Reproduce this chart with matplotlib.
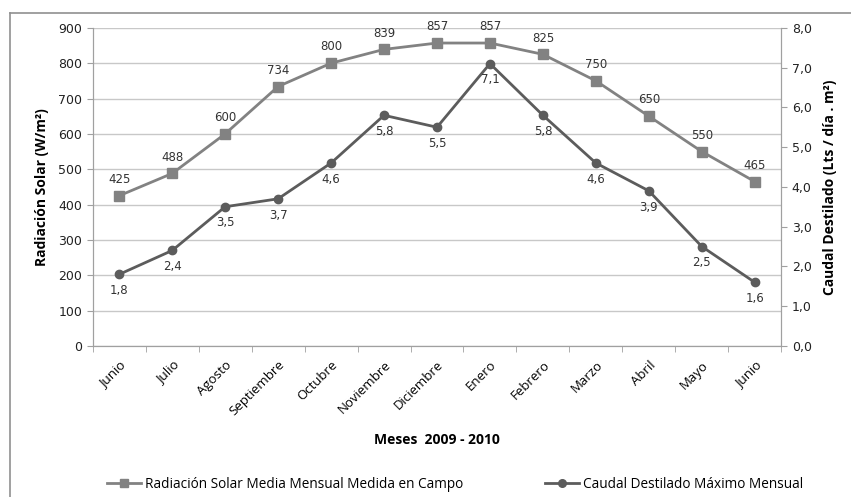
import numpy as np
from matplotlib import pyplot as plt
from matplotlib.lines import Line2D

meses = ["Junio", "Julio", "Agosto", "Septiembre", "Octubre", "Noviembre", "Diciembre",
         "Enero", "Febrero", "Marzo", "Abril", "Mayo", "Junio"]
radiacion = [425, 488, 600, 734, 800, 839, 857, 857, 825, 750, 650, 550, 465]
caudal = [1.8, 2.4, 3.5, 3.7, 4.6, 5.8, 5.5, 7.1, 5.8, 4.6, 3.9, 2.5, 1.6]

colRad = "#828282"
colCau = "#5c5c5c"
axCol = "#a0a0a0"

fig = plt.figure(figsize=(8.51, 4.97), dpi=100)
ax = fig.add_axes([0.109, 0.304, 0.809, 0.640])
ax2 = ax.twinx()

x = np.arange(len(meses))
ax.plot(x, radiacion, color=colRad, lw=2, marker="s", ms=6.5, zorder=3)
ax2.plot(x, caudal, color=colCau, lw=2, marker="o", ms=6, zorder=3)

for xi, v in zip(x, radiacion):
    ax.annotate(str(v), (xi, v), xytext=(0, 7), textcoords="offset points",
                ha="center", va="bottom", fontsize=8.5, color="#333333")
for xi, v in zip(x, caudal):
    ax2.annotate(f"{v:.1f}".replace(".", ","), (xi, v), xytext=(0, -7), textcoords="offset points",
                 ha="center", va="top", fontsize=8.5, color="#333333")

ax.set_xlim(-0.5, len(meses) - 0.5)
ax.set_ylim(0, 900)
ax2.set_ylim(0, 8)
ax.set_yticks(np.arange(0, 901, 100))
ax2.set_yticks(np.arange(0, 8.1, 1))
ax2.set_yticklabels([f"{v:.1f}".replace(".", ",") for v in np.arange(0, 8.1, 1)])
ax.grid(axis="y", color="#c8c8c8", lw=1)
ax.set_axisbelow(True)

ax.set_xticks(x)
ax.set_xticklabels(meses, rotation=45, ha="right", rotation_mode="anchor",
                   fontsize=9.5, family="Open Sans")
ax.set_xticks(np.arange(-0.5, len(meses)), minor=True)
ax.tick_params(axis="x", which="major", length=0, pad=9)
ax.tick_params(axis="x", which="minor", length=4, color=axCol)
ax.tick_params(axis="y", length=4, color=axCol, labelsize=9, labelcolor="#222222")
ax2.tick_params(axis="y", length=4, color=axCol, labelsize=9, labelcolor="#222222")

for a in (ax, ax2):
    a.spines["top"].set_visible(False)
    for s in ("left", "right", "bottom"):
        a.spines[s].set_color(axCol)

ax.set_ylabel("Radiación Solar (W/m²)", fontsize=10, fontweight="bold", family="Open Sans", labelpad=7)
ax2.set_ylabel("Caudal Destilado (Lts / día . m²)", fontsize=10, fontweight="bold", family="Open Sans", labelpad=8)
fig.text(0.514, 0.115, "Meses  2009 - 2010", ha="center", va="center", fontsize=10,
         fontweight="bold", family="Open Sans")

handles = [Line2D([], [], color=colRad, lw=2, marker="s", ms=6),
           Line2D([], [], color=colCau, lw=2, marker="o", ms=5.5)]
fig.legend(handles, ["Radiación Solar Media Mensual Medida en Campo", "Caudal Destilado Máximo Mensual"],
           loc="center", bbox_to_anchor=(0.535, 0.025), ncol=2, frameon=False,
           handlelength=2.5, handletextpad=0.3, columnspacing=6, prop={"family": "Open Sans", "size": 9.8})

# outer frame (top and left only visible)
fig.add_artist(Line2D([0.012, 1.0], [0.974, 0.974], color="#909090", lw=1.2, transform=fig.transFigure))
fig.add_artist(Line2D([0.012, 0.012], [0.0, 0.974], color="#909090", lw=1.2, transform=fig.transFigure))

fig.savefig("out.png", dpi=100)
